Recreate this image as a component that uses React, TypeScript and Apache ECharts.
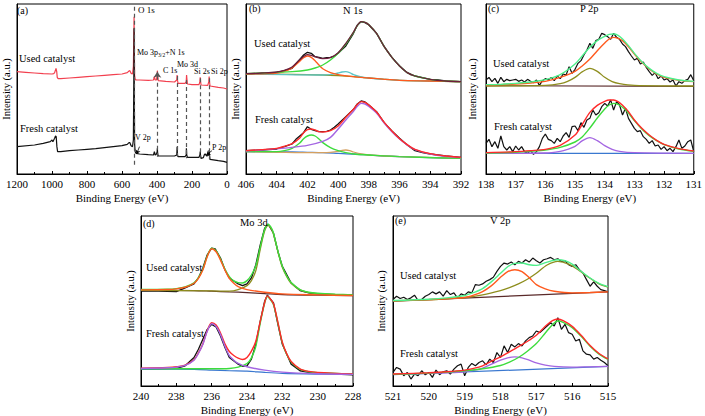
import React, { useEffect, useRef } from "react";
import * as echarts from "echarts";

const FONT = "Liberation Serif";
type P = [number, number][];

// ---------- (a) survey ----------
const surveyUsed: P = [[1200,307],[1150,305],[1100,303],[1050,301],[1000,300],[990,301],[985,304],[980,312],[977,317],[973,307],[970,290],[965,286],[950,286],[900,288],[850,290],[800,292],[750,294],[700,296],[650,298],[600,300],[570,304],[560,309],[555,310],[548,302],[540,300],[535,322],[532,422],[531,472],[530,402],[528,297],[525,285],[520,282],[500,282],[450,281],[420,282],[415,292],[410,282],[403,282],[399,297],[398,310],[396,297],[393,280],[350,278],[300,276],[287,282],[285,297],[283,282],[280,272],[240,272],[233,277],[231,297],[229,284],[226,270],[200,268],[160,268],[155,277],[153,290],[151,277],[148,267],[110,266],[104,277],[102,292],[100,277],[97,264],[50,260],[20,258],[0,255]];
const surveyFresh: P = [[1200,82],[1100,87],[1050,92],[1010,97],[1000,102],[995,97],[985,107],[980,114],[976,112],[972,82],[968,67],[950,67],[900,70],[850,72],[800,74],[750,76],[700,79],[650,82],[600,85],[570,89],[560,94],[555,94],[548,85],[540,82],[535,102],[532,322],[531,437],[530,302],[528,92],[525,67],[520,62],[500,60],[450,58],[420,57],[415,67],[410,57],[403,60],[399,67],[398,77],[396,60],[393,54],[350,54],[300,54],[287,57],[285,82],[283,57],[280,52],[240,52],[233,57],[232,77],[230,57],[226,50],[200,50],[160,50],[155,57],[153,67],[151,54],[148,47],[135,49],[130,57],[125,60],[115,54],[104,57],[102,72],[100,57],[97,44],[50,40],[20,38],[0,35]];
// dashed guide lines: [energy, top, bottom]
const surveyGuides: [number, number, number][] = [[531,502,22],[285,294,52],[232,282,47],[153,287,47],[102,287,42]];
const surveyArrowMo: [number, number, number] = [398, 307, 52];
const surveyArrowV: [[number, number],[number, number]] = [[500,82],[517,60]];
const surveyArrowP: [[number, number],[number, number]] = [[86,70],[118,57]];

// ---------- (b) N 1s ----------
const nUsedData: P = [[406,300],[405.5,301],[405,302],[404.5,304],[404,305],[403.5,310],[403,317],[402.5,344],[402.25,357],[402,365],[401.75,362],[401.5,352],[401.25,350],[401,347],[400.75,349],[400.5,350],[400.25,354],[400,362],[399.5,384],[399,422],[398.75,447],[398.5,457],[398.25,454],[398,447],[397.5,422],[397,382],[396.5,350],[396,324],[395.5,304],[395,294],[394.5,289],[394,284],[393.5,282],[393,279],[392.5,278],[392,277]];
const nUsedBase: P = [[406,300],[403,299],[401,297],[400,295],[399,292],[398,288],[397,284],[396,281],[394,279],[392,277]];
const nUsedMain: P = [[406,301],[405,303],[404,305],[403,307],[402,312],[401.5,318],[401,327],[400.5,342],[400,362],[399.5,390],[399,425],[398.75,445],[398.5,457],[398.25,455],[398,448],[397.5,422],[397,382],[396.5,350],[396,324],[395.5,304],[395,294],[394,284],[393,279],[392,277]];
const nUsedHigh: P = [[406,300],[404.5,301],[404,303],[403.5,308],[403,318],[402.5,338],[402.25,349],[402,354],[401.75,350],[401.5,340],[401.25,327],[401,316],[400.5,304],[400,298],[399,292],[398,288],[397,284],[396,281],[394,279],[392,277]];
const nUsedMid: P = [[406,300],[401,297],[400.5,298],[400,303],[399.75,306],[399.5,307],[399.25,304],[399,298],[398.5,291],[398,288],[397,284],[396,281],[394,279],[392,277]];
const nUsedFit: P = [[406,301],[405,303],[404,306],[403.5,311],[403,321],[402.5,343],[402,358],[401.75,356],[401.5,352],[401,346],[400.5,349],[400,364],[399.5,392],[399,426],[398.75,446],[398.5,457],[398.25,455],[398,448],[397.5,422],[397,382],[396.5,350],[396,324],[395.5,304],[395,294],[394,284],[393,279],[392,277]];
const nFreshData: P = [[406,70],[405,72],[404,75],[403.5,82],[403,90],[402.75,104],[402.5,114],[402.25,124],[402,142],[401.75,134],[401.5,130],[401.25,127],[401,127],[400.75,128],[400.5,132],[400.25,140],[400,150],[399.5,172],[399,194],[398.75,210],[398.5,219],[398.25,216],[398,207],[397.5,187],[397,154],[396.5,129],[396,107],[395.5,87],[395,70],[394.5,64],[394,60],[393.5,57],[393,54],[392,50]];
const nFreshBase: P = [[406,67],[403,66],[402,65],[401,64],[400,62],[399,60],[398,57],[397,54],[396,52],[394,49],[392,47]];
const nFreshMain: P = [[406,69],[405,72],[404,76],[403,80],[402,86],[401,98],[400.5,110],[400,135],[399.5,162],[399,188],[398.75,203],[398.5,212],[398.25,210],[398,203],[397.5,183],[397,153],[396.5,127],[396,105],[395.5,87],[395,73],[394,60],[393,53],[392,49]];
const nFreshHigh: P = [[406,67],[404,67],[403.5,70],[403,77],[402.5,93],[402.25,106],[402,114],[401.75,117],[401.5,114],[401.25,105],[401,94],[400.5,79],[400,70],[399.5,64],[399,60],[398,57],[396,52],[392,47]];
const nFreshMid: P = [[406,67],[401,64],[400.5,65],[400,68],[399.75,71],[399.5,72],[399.25,70],[399,66],[398.5,60],[398,57],[396,52],[392,47]];
const nFreshFit: P = [[406,70],[405,73],[404,77],[403.5,83],[403,91],[402.5,108],[402.25,124],[402,133],[401.75,135],[401.5,132],[401.25,127],[401,126],[400.5,130],[400,144],[399.5,170],[399,194],[398.75,209],[398.5,217],[398.25,215],[398,207],[397.5,186],[397,155],[396.5,129],[396,106],[395.5,88],[395,74],[394,61],[393,54],[392,50]];

// ---------- (c) P 2p ----------
const pEnergy: number[] = Array.from({ length: 71 }, (_, i) => +(138 - i * 0.1).toFixed(1));
const pUsedCounts = [282,290,277,287,272,290,277,284,280,282,284,278,282,276,284,278,274,282,266,280,286,282,290,280,294,286,300,297,322,302,314,332,340,357,372,392,377,400,404,422,418,412,404,422,410,404,390,382,367,354,342,347,330,336,320,307,296,304,286,294,282,286,276,282,264,277,272,280,284,298,280];
const pFreshCounts = [92,104,82,97,77,114,82,72,82,67,84,72,82,67,62,70,59,67,82,107,120,104,100,92,107,97,114,124,110,142,144,130,154,140,162,167,192,177,184,202,212,204,222,192,217,207,177,197,167,152,137,127,130,112,104,92,100,84,87,74,82,70,77,67,82,102,77,84,97,102,67];
const pUsedBase: P = [[138,265],[131,263]];
const pUsedMain: P = [[138,267],[137.5,268],[137,270],[136.5,273],[136,278],[135.5,290],[135,308],[134.75,325],[134.5,345],[134.25,370],[134,393],[133.85,405],[133.7,410],[133.55,407],[133.4,400],[133.2,382],[133,360],[132.75,335],[132.5,315],[132.25,300],[132,290],[131.5,281],[131,277]];
const pUsedHigh: P = [[138,264],[136,266],[135.5,271],[135.25,278],[135,290],[134.75,307],[134.5,317],[134.25,308],[134,290],[133.75,277],[133.5,271],[133,266],[131,264]];
const pUsedFit: P = [[138,268],[137.5,269],[137,272],[136.5,276],[136,283],[135.5,298],[135,330],[134.75,355],[134.5,380],[134.25,400],[134,413],[133.85,419],[133.7,420],[133.55,416],[133.4,405],[133.2,385],[133,362],[132.75,337],[132.5,317],[132.25,302],[132,292],[131.5,282],[131,278]];
const pFreshBase: P = [[138,62],[131,62]];
const pFreshHigh: P = [[138,62],[136,63],[135.5,68],[135.25,74],[135,83],[134.75,100],[134.5,109],[134.25,100],[134,85],[133.75,74],[133.5,68],[133,64],[131,62]];
const pFreshMain: P = [[138,63],[137,65],[136.5,68],[136,72],[135.5,80],[135,96],[134.75,112],[134.5,138],[134.25,168],[134,195],[133.85,207],[133.7,212],[133.55,209],[133.4,200],[133.2,183],[133,160],[132.75,135],[132.5,115],[132.25,100],[132,88],[131.5,75],[131,68]];
const pFreshFit: P = [[138,64],[137,67],[136.5,70],[136,74],[135.5,86],[135,117],[134.75,150],[134.5,185],[134.25,206],[134,218],[133.85,222],[133.7,222],[133.55,217],[133.4,206],[133.2,187],[133,162],[132.75,137],[132.5,117],[132.25,101],[132,89],[131.5,76],[131,69]];

// ---------- (d) Mo 3d ----------
const mUsedData: P = [[240,286],[239,286],[238,285],[237.5,296],[237,308],[236.75,326],[236.5,356],[236.25,396],[236,416],[235.8,414],[235.5,386],[235.25,351],[235,326],[234.5,308],[234.25,303],[234,308],[233.75,326],[233.5,366],[233.25,426],[233,476],[232.8,488],[232.5,461],[232.25,406],[232,361],[231.5,311],[231,288],[230.5,281],[230,278],[229,276],[228,274]];
const mUsedBase: P = [[240,289],[237,288],[236,286],[235,284],[234,282],[233,279],[232,276],[230,274],[228,273]];
const mUsedHigh: P = [[240,290],[238.5,291],[238,293],[237.5,298],[237,310],[236.75,325],[236.5,350],[236.25,390],[236,414],[235.75,405],[235.5,380],[235.25,350],[235,325],[234.75,310],[234.5,300],[234,291],[233,283],[232,278],[230,275],[228,273]];
const mUsedLow: P = [[240,289],[236,287],[235,286],[234.5,291],[234,303],[233.75,318],[233.5,348],[233.25,412],[233,468],[232.8,485],[232.6,472],[232.5,458],[232.25,405],[232,358],[231.75,330],[231.5,310],[231,290],[230.5,282],[230,279],[229,276],[228,274]];
const mUsedFit: P = [[240,291],[238.5,292],[238,294],[237.5,299],[237,311],[236.75,327],[236.5,352],[236.25,392],[236,416],[235.75,408],[235.5,383],[235.25,353],[235,330],[234.75,317],[234.5,312],[234.25,311],[234,318],[233.75,335],[233.5,363],[233.25,420],[233,472],[232.8,488],[232.6,475],[232.5,461],[232.25,407],[232,361],[231.75,332],[231.5,312],[231,291],[230.5,283],[230,280],[229,277],[228,275]];
const mFreshData: P = [[240,51],[239,52],[238,53],[237.5,61],[237,86],[236.75,111],[236.5,141],[236.25,171],[236,186],[235.75,178],[235.5,151],[235.25,116],[235,86],[234.5,66],[234.25,59],[234,61],[233.75,81],[233.5,126],[233.25,196],[233,256],[232.85,274],[232.5,251],[232.25,186],[232,126],[231.5,66],[231,46],[230.5,41],[230,39],[229,36],[228,34]];
const mFreshBase: P = [[240,51],[237,50],[236,48],[235,46],[234,45],[233,41],[232,38],[230,36],[228,35]];
const mFreshHigh: P = [[240,53],[238.5,55],[238,57],[237.5,62],[237,78],[236.75,98],[236.5,125],[236.25,165],[236,188],[235.75,180],[235.5,155],[235.25,120],[235,92],[234.75,78],[234.5,68],[234,58],[233,48],[232,42],[230,37],[228,35]];
const mFreshLow: P = [[240,52],[236,52],[235,53],[234.5,57],[234,68],[233.75,85],[233.5,120],[233.25,190],[233,250],[232.85,270],[232.7,262],[232.5,245],[232.25,190],[232,130],[231.75,95],[231.5,72],[231,50],[230.5,43],[230,40],[228,36]];
const mFreshFit: P = [[240,54],[238.5,56],[238,58],[237.5,63],[237,79],[236.75,100],[236.5,127],[236.25,167],[236,191],[235.75,184],[235.5,160],[235.25,127],[235,104],[234.75,92],[234.5,84],[234.25,80],[234,86],[233.75,105],[233.5,135],[233.25,195],[233,252],[232.85,272],[232.7,264],[232.5,248],[232.25,192],[232,132],[231.75,97],[231.5,74],[231,52],[230.5,44],[230,41],[228,36]];

// ---------- (e) V 2p ----------
const vEnergy: number[] = Array.from({ length: 61 }, (_, i) => +(521 - i * 0.1).toFixed(1));
const vUsedCounts = [261,271,264,268,261,266,274,258,261,271,276,284,278,284,271,288,276,281,266,278,274,284,281,306,304,308,316,321,328,346,361,371,368,374,366,376,371,381,374,386,378,371,381,384,388,381,384,376,378,366,361,366,351,341,321,301,314,301,291,288,284];
const vFreshCounts = [41,56,51,31,41,21,36,31,46,34,41,26,48,34,43,46,36,51,61,66,31,56,68,61,71,76,64,81,71,101,86,121,101,126,118,128,121,136,146,151,166,161,171,181,191,181,206,171,186,161,156,136,141,106,96,94,81,86,78,71,61];
const vUsedBase: P = [[521,256],[515,284]];
const vUsedHigh: P = [[521,257],[520,261],[519,267],[518.75,274],[518.5,285],[518.25,303],[518,328],[517.8,345],[517.6,351],[517.4,345],[517.2,327],[517,306],[516.75,293],[516.5,286],[516,281],[515.5,282],[515,284]];
const vUsedLow: P = [[521,257],[520,260],[519.5,263],[519,267],[518.5,275],[518,288],[517.75,297],[517.5,308],[517.25,322],[517,340],[516.7,365],[516.4,376],[516.1,368],[515.8,348],[515.5,325],[515.25,308],[515,298]];
const vUsedFit: P = [[521,258],[520,262],[519.5,266],[519,273],[518.75,282],[518.5,294],[518.25,315],[518,340],[517.8,360],[517.6,370],[517.4,371],[517.2,366],[517,364],[516.8,370],[516.6,377],[516.4,381],[516.2,378],[516,368],[515.8,350],[515.5,326],[515.25,310],[515,300]];
const vFreshBase: P = [[521,34],[515,59]];
const vFreshHigh: P = [[521,35],[520,38],[519.5,40],[519,43],[518.75,47],[518.5,54],[518.25,66],[518,78],[517.8,85],[517.6,88],[517.4,85],[517.2,78],[517,70],[516.75,63],[516.5,59],[516,57],[515.5,58],[515,59]];
const vFreshLow: P = [[521,35],[520,39],[519.5,42],[519,46],[518.5,52],[518,62],[517.75,72],[517.5,86],[517.25,105],[517,128],[516.75,160],[516.55,185],[516.4,196],[516.25,192],[516,176],[515.75,150],[515.5,120],[515.25,96],[515,80]];
const vFreshFit: P = [[521,36],[520,40],[519.5,43],[519,48],[518.75,53],[518.5,61],[518.25,75],[518,88],[517.8,100],[517.6,112],[517.4,125],[517.2,138],[517,153],[516.75,180],[516.55,197],[516.4,202],[516.25,197],[516,180],[515.75,153],[515.5,122],[515.25,98],[515,82]];

const C = {
  black: "#111111", survey: "#f2404f", green: "#3ddc3d", mint: "#4def8a", red: "#ff2a2a",
  orange: "#ff5a1e", purple: "#a466e2", blue: "#3a78d0", olive: "#8e8e1e", maroon: "#6e1e3c",
  cyan: "#5cc6c6", tan: "#d4a060", dark: "#5a2a2a",
};

const zip = (e: number[], v: number[]): P => e.map((x, i) => [x, v[i]]);

function line(gi: number, data: P, color: string, width = 1.3, smooth: number | boolean = false, extra: any = {}) {
  return {
    type: "line", xAxisIndex: gi, yAxisIndex: gi, data, symbol: "none", showSymbol: false,
    smooth, silent: true, lineStyle: { color, width }, itemStyle: { color }, ...extra,
  };
}

const serif = (size: number) => ({ fontFamily: FONT, fontSize: size, fontWeight: "normal", color: "#000" });

function xAx(gi: number, min: number, max: number, interval: number) {
  return {
    type: "value", gridIndex: gi, min, max, interval, inverse: true,
    name: "Binding Energy (eV)", nameLocation: "middle", nameGap: 18,
    nameTextStyle: serif(11),
    axisLine: { show: true, onZero: false, lineStyle: { color: "#000", width: 1 } },
    axisTick: { show: true, inside: true, length: 3, lineStyle: { color: "#000" } },
    minorTick: { show: true, splitNumber: 2, length: 2, lineStyle: { color: "#000" } },
    axisLabel: { ...serif(11), margin: 4, formatter: (v: number) => String(v) },
    splitLine: { show: false },
  };
}
function yAx(gi: number, max: number, gap: number) {
  return {
    type: "value", gridIndex: gi, min: 0, max,
    name: "Intensity (a.u.)", nameLocation: "middle", nameGap: gap,
    nameTextStyle: serif(10.5),
    axisLine: { show: true, onZero: false, lineStyle: { color: "#000", width: 1 } },
    axisTick: { show: false }, axisLabel: { show: false }, splitLine: { show: false },
  };
}

function txt(x: number, y: number, text: string, size = 10, weight: string = "normal", extra: any = {}) {
  return {
    type: "text", x, y, silent: true, z: 100,
    style: { text, fill: "#000", fontFamily: FONT, fontSize: size, fontWeight: weight, textAlign: "left", textVerticalAlign: "middle", ...extra },
  };
}

export default function App() {
  const ref = useRef<HTMLDivElement>(null);
  useEffect(() => {
    document.body.style.margin = "0";
    if (!ref.current) return;
    const chart = echarts.init(ref.current, undefined, { renderer: "svg" });
    const gridBase = { show: true, borderColor: "#000", borderWidth: 1, backgroundColor: "transparent", containLabel: false };
    const dash = { type: [4, 3], color: "#555", width: 1.2 };
    const option: any = {
      animation: false,
      backgroundColor: "#fff",
      textStyle: { fontFamily: FONT },
      grid: [
        { ...gridBase, left: 14, top: 4, width: 213, height: 170 },
        { ...gridBase, left: 246, top: 4, width: 215, height: 170 },
        { ...gridBase, left: 486, top: 4, width: 211, height: 170 },
        { ...gridBase, left: 141, top: 216, width: 212, height: 171 },
        { ...gridBase, left: 393, top: 216, width: 215, height: 171 },
      ],
      xAxis: [xAx(0, 0, 1200, 200), xAx(1, 392, 406, 2), xAx(2, 131, 138, 1), xAx(3, 228, 240, 2), xAx(4, 515, 521, 1)],
      yAxis: [yAx(0, 510, 5), yAx(1, 510, 5), yAx(2, 510, 8), yAx(3, 513, 5), yAx(4, 513, 6)],
      series: [
        // (a)
        line(0, surveyUsed, C.survey, 1.2),
        line(0, surveyFresh, C.black, 1.2, false, {
          markLine: {
            silent: true, symbol: ["none", "none"], label: { show: false },
            lineStyle: dash,
            data: [
              ...surveyGuides.map(([e, t, b]) => [{ coord: [e, t] }, { coord: [e, b] }]),
              [{ coord: [surveyArrowMo[0], surveyArrowMo[2]], symbol: "none" }, { coord: [surveyArrowMo[0], surveyArrowMo[1]], symbol: "arrow", symbolSize: 6 }],
              [{ coord: surveyArrowV[0], symbol: "none", lineStyle: { type: "solid", color: "#000", width: 0.8 } }, { coord: surveyArrowV[1], symbol: "arrow", symbolSize: 4 }],
              [{ coord: surveyArrowP[0], symbol: "none", lineStyle: { type: "solid", color: "#000", width: 0.8 } }, { coord: surveyArrowP[1], symbol: "arrow", symbolSize: 4 }],
            ],
          },
        }),
        // (b) used
        line(1, nUsedData, C.black, 1.3),
        line(1, nUsedBase, C.olive, 1.3, 0.3),
        line(1, nUsedMid, C.cyan, 1.3, 0.3),
        line(1, nUsedHigh, C.orange, 1.3, 0.3),
        line(1, nUsedMain, C.green, 1.4, 0.3),
        line(1, nUsedFit, C.maroon, 1.3, 0.3),
        // (b) fresh
        line(1, nFreshData, C.black, 1.3),
        line(1, nFreshBase, C.blue, 1.3, 0.3),
        line(1, nFreshMid, C.tan, 1.3, 0.3),
        line(1, nFreshHigh, C.green, 1.4, 0.3),
        line(1, nFreshMain, C.purple, 1.4, 0.3),
        line(1, nFreshFit, C.red, 1.4, 0.3),
        // (c)
        line(2, zip(pEnergy, pUsedCounts), C.black, 1.2),
        line(2, pUsedBase, C.dark, 1.2),
        line(2, pUsedHigh, C.olive, 1.3, 0.3),
        line(2, pUsedMain, C.orange, 1.4, 0.3),
        line(2, pUsedFit, C.mint, 1.4, 0.3),
        line(2, zip(pEnergy, pFreshCounts), C.black, 1.2),
        line(2, pFreshBase, C.blue, 1.2),
        line(2, pFreshHigh, C.purple, 1.3, 0.3),
        line(2, pFreshMain, C.green, 1.4, 0.3),
        line(2, pFreshFit, C.red, 1.4, 0.3),
        // (d)
        line(3, mUsedData, C.black, 1.3),
        line(3, mUsedBase, C.dark, 1.2, 0.3),
        line(3, mUsedLow, C.olive, 1.3, 0.3),
        line(3, mUsedFit, C.green, 1.4, 0.3),
        line(3, mUsedHigh, C.orange, 1.4, 0.3),
        line(3, mFreshData, C.black, 1.3),
        line(3, mFreshBase, C.blue, 1.2, 0.3),
        line(3, mFreshLow, C.green, 1.4, 0.3),
        line(3, mFreshFit, C.red, 1.4, 0.3),
        line(3, mFreshHigh, C.purple, 1.4, 0.3),
        // (e)
        line(4, zip(vEnergy, vUsedCounts), C.black, 1.2),
        line(4, vUsedBase, C.dark, 1.2),
        line(4, vUsedLow, C.olive, 1.3, 0.3),
        line(4, vUsedHigh, C.orange, 1.4, 0.3),
        line(4, vUsedFit, C.mint, 1.4, 0.3),
        line(4, zip(vEnergy, vFreshCounts), C.black, 1.2),
        line(4, vFreshBase, C.blue, 1.2),
        line(4, vFreshHigh, C.purple, 1.3, 0.3),
        line(4, vFreshLow, C.green, 1.4, 0.3),
        line(4, vFreshFit, C.red, 1.4, 0.3),
      ],
      graphic: [
        // (a)
        txt(17, 10, "(a)", 10),
        txt(138, 10, "O 1s", 9),
        txt(19, 58, "Used catalyst", 10.5),
        txt(20, 128, "Fresh catalyst", 10.5),
        txt(137, 52, "Mo 3p{s|3/2}+N 1s", 8, "normal", { rich: { s: { fontSize: 5.5, fontFamily: FONT, fill: "#000", padding: [5, 0, 0, 0] } } }),
        txt(163, 70, "C 1s", 8),
        txt(177, 64, "Mo 3d", 8),
        txt(194, 71, "Si 2s", 8),
        txt(211, 71, "Si 2p", 8),
        txt(135, 137, "V 2p", 8),
        txt(212, 147, "P 2p", 8),
        // (b)
        txt(249, 8, "(b)", 10),
        txt(343, 10, "N 1s", 10.5),
        txt(254, 43, "Used catalyst", 10.5),
        txt(255, 119, "Fresh catalyst", 10.5),
        // (c)
        txt(488, 8, "(c)", 10),
        txt(580, 8, "P 2p", 10.5),
        txt(493, 63, "Used catalyst", 10.5),
        txt(494, 126, "Fresh catalyst", 10.5),
        // (d)
        txt(143, 223, "(d)", 10),
        txt(240, 222, "Mo 3d", 10.5),
        txt(146, 267, "Used catalyst", 10.5),
        txt(146, 333, "Fresh catalyst", 10.5),
        // (e)
        txt(395, 220, "(e)", 10),
        txt(490, 220, "V 2p", 10.5),
        txt(400, 275, "Used catalyst", 10.5),
        txt(400, 353, "Fresh catalyst", 10.5),
      ],
    };
    chart.setOption(option);
    return () => chart.dispose();
  }, []);
  return <div ref={ref} style={{ width: 705, height: 416 }} />;
}
